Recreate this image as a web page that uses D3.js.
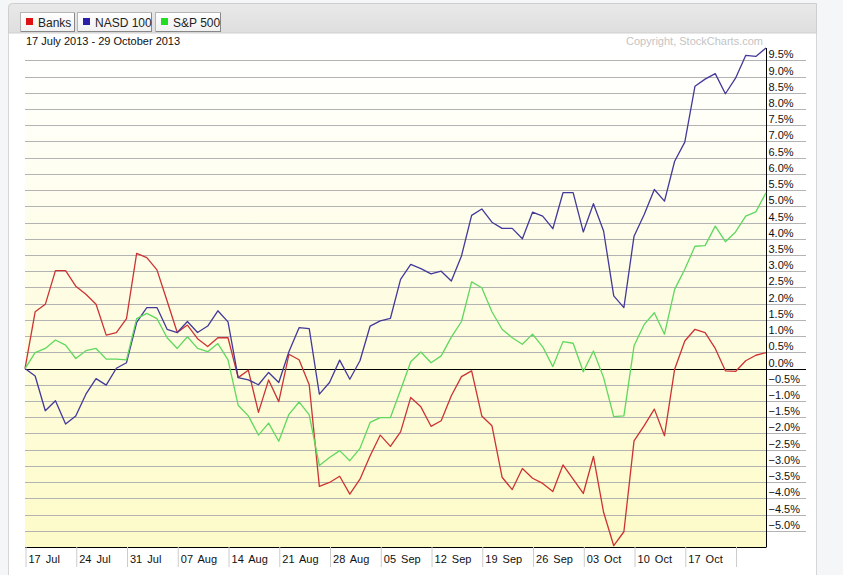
<!DOCTYPE html>
<html><head><meta charset="utf-8">
<script src="https://cdn.jsdelivr.net/npm/d3@7"></script>
<style>
html,body{margin:0;padding:0;background:#f5f6f8;}
svg{display:block;font-family:"Liberation Sans",Arial,sans-serif;}
</style></head>
<body>
<svg id="c" width="843" height="575"></svg>
<script>
// ---- data (trading-day index 0 = 17 Jul 2013 ... 73 = 29 Oct 2013) ----
const seriesNames = ["Banks", "NASD 100", "S&P 500"];
const banks = [0,1.75,1.98,3.02,3.02,2.54,2.29,1.98,1.03,1.11,1.54,3.55,3.42,3.04,2.08,1.11,1.34,0.92,0.68,0.95,0.95,-0.28,-0.05,-1.35,-0.35,-1.02,0.44,0.27,-0.50,-3.63,-3.51,-3.32,-3.87,-3.41,-2.69,-2.05,-2.40,-1.95,-0.89,-1.18,-1.78,-1.61,-0.84,-0.25,-0.07,-1.46,-1.76,-3.35,-3.73,-3.08,-3.38,-3.54,-3.79,-2.97,-3.41,-3.85,-2.71,-4.43,-5.46,-5.03,-2.23,-1.76,-1.25,-2.07,-0.02,0.85,1.21,1.11,0.62,-0.07,-0.09,0.24,0.41,0.49];
const nasd100 = [0,-0.23,-1.30,-0.99,-1.71,-1.46,-0.79,-0.31,-0.51,0.01,0.18,1.42,1.88,1.88,1.21,1.11,1.45,1.11,1.31,1.78,1.44,-0.28,-0.35,-0.50,-0.12,-0.43,0.52,1.26,1.23,-0.79,-0.43,0.26,-0.33,0.24,1.31,1.47,1.55,2.75,3.21,3.08,2.92,3.00,2.70,3.47,4.72,4.92,4.51,4.32,4.32,4.00,4.82,4.70,4.31,5.42,5.42,4.21,5.08,4.24,2.24,1.88,4.08,4.75,5.52,5.16,6.39,6.98,8.70,8.92,9.09,8.47,8.95,9.65,9.62,9.88];
const sp500 = [0,0.49,0.62,0.88,0.72,0.31,0.55,0.62,0.29,0.29,0.27,1.54,1.70,1.54,0.95,0.62,0.98,0.62,0.52,0.77,0.27,-1.13,-1.46,-2.05,-1.68,-2.24,-1.41,-1.03,-1.43,-2.99,-2.74,-2.53,-2.84,-2.46,-1.66,-1.51,-1.51,-0.66,0.21,0.51,0.18,0.39,0.97,1.45,2.67,2.49,1.75,1.21,0.95,0.75,1.06,0.67,0.06,0.83,0.78,-0.10,0.54,-0.28,-1.48,-1.46,0.70,1.36,1.72,1.06,2.44,3.06,3.77,3.79,4.39,3.91,4.21,4.70,4.83,5.42];
const xTickIndex = [0,5,10,15,20,25,30,35,40,45,50,55,60,65,70];
const xTickLabels = ["17 Jul","24 Jul","31 Jul","07 Aug","14 Aug","21 Aug","28 Aug","05 Sep","12 Sep","19 Sep","26 Sep","03 Oct","10 Oct","17 Oct",""];
const yTicks = d3.range(-10, 20).map(k => k * 0.5);  // -5.0 .. 9.5
const dateRange = "17 July 2013 - 29 October 2013";
const copyright = "Copyright, StockCharts.com";
const lineColors = ["#cc3333", "#43399a", "#5fd85f"];
const legendColors = ["#dd1111", "#2a1fa8", "#22dd22"];

const svg = d3.select("#c");
const L = 25, R = 766, T = 48, B = 547;
const x = d3.scaleLinear().domain([0, banks.length - 1]).range([L, R]);
const y = d3.scaleLinear().domain([-5.5, 9.88]).range([B, T]);

// panel
const defs = svg.append("defs");
const hg = defs.append("linearGradient").attr("id","hdr").attr("x1",0).attr("y1",0).attr("x2",0).attr("y2",1);
hg.append("stop").attr("offset","0%").attr("stop-color","#e9e9e9");
hg.append("stop").attr("offset","100%").attr("stop-color","#dedede");
const pg = defs.append("linearGradient").attr("id","plotbg").attr("x1",0).attr("y1",0).attr("x2",0).attr("y2",1);
pg.append("stop").attr("offset","0%").attr("stop-color","#ffffff");
pg.append("stop").attr("offset","100%").attr("stop-color","#fdfbc8");
const bg = defs.append("linearGradient").attr("id","btn").attr("x1",0).attr("y1",0).attr("x2",0).attr("y2",1);
bg.append("stop").attr("offset","0%").attr("stop-color","#ffffff");
bg.append("stop").attr("offset","100%").attr("stop-color","#f0f0f0");

svg.append("rect").attr("x",8.5).attr("y",3.5).attr("width",808).attr("height",580)
  .attr("rx",4).attr("fill","#ffffff").attr("stroke","#d6d6d6");
svg.append("path").attr("d","M8.5,33 L8.5,7.5 Q8.5,3.5 12.5,3.5 L816.5,3.5 L816.5,33 Z")
  .attr("fill","url(#hdr)").attr("stroke","#cfcfcf");

// legend buttons
const btns = [{x:20,w:54},{x:77,w:74},{x:155,w:65}];
seriesNames.forEach((n,i)=>{
  const g = svg.append("g").attr("transform",`translate(${btns[i].x},12)`);
  g.append("rect").attr("x",0.5).attr("y",0.5).attr("width",btns[i].w).attr("height",19)
    .attr("fill","url(#btn)").attr("stroke","#b5b5b5");
  g.append("line").attr("x1",btns[i].w+0.5).attr("x2",btns[i].w+0.5).attr("y1",1).attr("y2",20).attr("stroke","#888");
  g.append("line").attr("x1",1).attr("x2",btns[i].w+0.5).attr("y1",19.5).attr("y2",19.5).attr("stroke","#888");
  g.append("rect").attr("x",6).attr("y",6).attr("width",7).attr("height",7).attr("fill",legendColors[i]);
  g.append("text").attr("x",18).attr("y",14.5).attr("font-size",12).attr("fill","#222").text(n);
});

// plot background
svg.append("rect").attr("x",L).attr("y",T).attr("width",R-L).attr("height",B-T).attr("fill","url(#plotbg)");

// grid lines
svg.append("g").selectAll("line").data(yTicks.filter(v=>v!==0)).join("line")
  .attr("x1",L).attr("x2",806).attr("y1",d=>Math.round(y(d))+0.5).attr("y2",d=>Math.round(y(d))+0.5)
  .attr("stroke","#b3b3b3").attr("stroke-width",1);

// texts
svg.append("text").attr("x",26).attr("y",45).attr("font-size",11).attr("fill","#111").text(dateRange);
svg.append("text").attr("x",763).attr("y",45).attr("text-anchor","end").attr("font-size",11).attr("fill","#c4c4c4").text(copyright);

// right axis
const yAxis = d3.axisRight(y).tickValues(yTicks).tickSize(0).tickPadding(0)
  .tickFormat(d => d3.format(".1f")(d) + "%");
const ya = svg.append("g").attr("transform",`translate(${R+0.5},0)`).call(yAxis);
ya.select(".domain").attr("stroke","#000").attr("d",`M0,${T}V${B}`);
ya.selectAll("text").attr("x",2).attr("dy",null).attr("y",-2.5).attr("font-size",11)
  .attr("font-family","Liberation Sans, Arial, sans-serif").attr("fill","#111");

// zero line
svg.append("line").attr("x1",L).attr("x2",806).attr("y1",Math.round(y(0))+0.5).attr("y2",Math.round(y(0))+0.5)
  .attr("stroke","#000").attr("stroke-width",1.2);

// bottom axis
const xAxis = d3.axisBottom(x).tickValues(xTickIndex).tickSize(20)
  .tickFormat((d,i)=>xTickLabels[i]);
const xa = svg.append("g").attr("transform",`translate(0,${B})`).call(xAxis);
xa.select(".domain").attr("stroke","#000").attr("d",`M${L},0.5H${R+0.5}`);
xa.selectAll(".tick line").attr("stroke","#cccccc").attr("transform","translate(0.5,0)");
xa.selectAll(".tick text").attr("text-anchor","start").attr("x",3).attr("y",16).attr("dy",null)
  .attr("font-size",11).attr("fill","#111").attr("word-spacing","2px")
  .attr("font-family","Liberation Sans, Arial, sans-serif");

// series lines
const line = d3.line().x((d,i)=>x(i)).y(d=>y(d));
[banks, nasd100, sp500].forEach((s,i)=>{
  svg.append("path").datum(s).attr("d",line).attr("fill","none")
    .attr("stroke",lineColors[i]).attr("stroke-width",1.3).attr("stroke-linejoin","round");
});
</script>
</body></html>
